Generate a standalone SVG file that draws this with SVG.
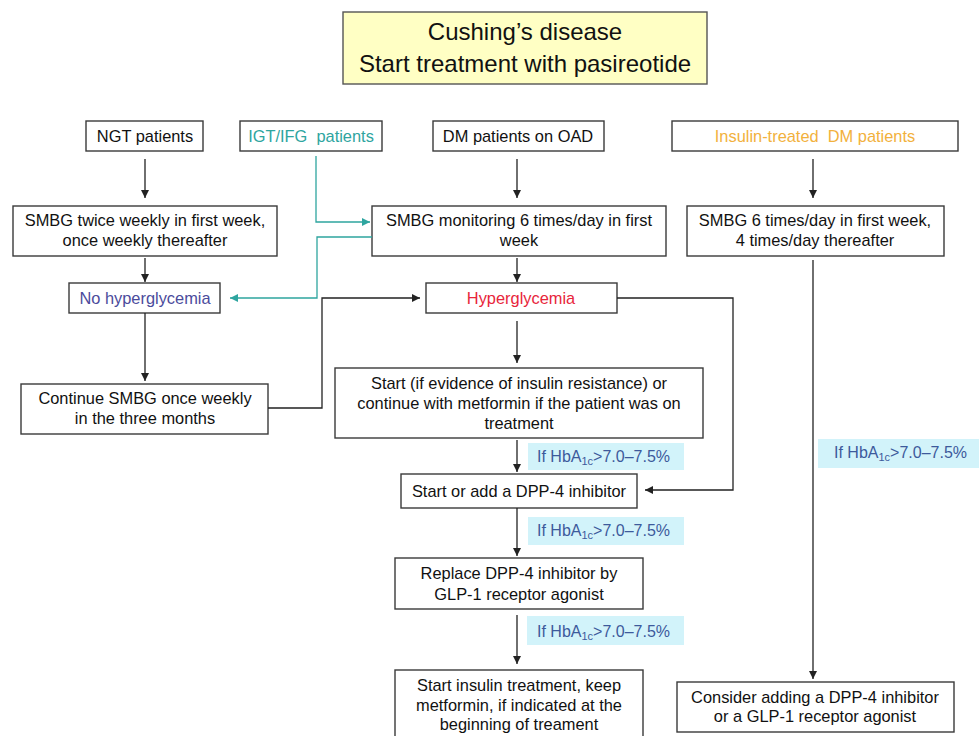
<svg xmlns="http://www.w3.org/2000/svg" width="979" height="736" viewBox="0 0 979 736">
<style>
.box{fill:#fff;stroke:#3a3a3a;stroke-width:1.4}
.t{font-family:"Liberation Sans",Arial,sans-serif;font-size:16.4px;fill:#111;text-anchor:middle}
.ttl{font-family:"Liberation Sans",Arial,sans-serif;font-size:24px;fill:#111;text-anchor:middle}
.lbl{fill:#d2f3fa}
.lt{font-family:"Liberation Sans",Arial,sans-serif;font-size:16px;fill:#3d5a9c}
.sub{font-size:11px}
.c{fill:none;stroke:#222;stroke-width:1.3}
.ct{fill:none;stroke:#2ea59f;stroke-width:1.3}
</style>
<defs>
<marker id="ah" viewBox="0 0 10 10" refX="10" refY="5" markerWidth="8" markerHeight="8" markerUnits="userSpaceOnUse" orient="auto"><path d="M0,0 L10,5 L0,10 z" fill="#222"/></marker>
<marker id="aht" viewBox="0 0 10 10" refX="10" refY="5" markerWidth="8" markerHeight="8" markerUnits="userSpaceOnUse" orient="auto"><path d="M0,0 L10,5 L0,10 z" fill="#2ea59f"/></marker>
</defs>
<rect width="979" height="736" fill="#fff"/>

<g id="title">
<rect x="343" y="12" width="364" height="72" fill="#ffffc4" stroke="#555" stroke-width="1.4"/>
<text class="ttl" x="525" y="40">Cushing’s disease</text>
<text class="ttl" x="525" y="72">Start treatment with pasireotide</text>
</g>

<g id="ngt"><rect class="box" x="86" y="121" width="117" height="30"/><text class="t" x="145" y="142">NGT patients</text></g>
<g id="igt"><rect class="box" x="240" y="121" width="142" height="30"/><text class="t" x="311" y="142" style="fill:#2ea59f" xml:space="preserve">IGT/IFG  patients</text></g>
<g id="dm"><rect class="box" x="433" y="121" width="171" height="30"/><text class="t" x="518" y="142">DM patients on OAD</text></g>
<g id="ins"><rect class="box" x="672" y="121" width="286" height="30"/><text class="t" x="815" y="142" style="fill:#f2b13c" xml:space="preserve">Insulin-treated  DM patients</text></g>

<g id="smbg1"><rect class="box" x="13" y="206" width="264" height="50"/><text class="t" x="145" y="226">SMBG twice weekly in first week,</text><text class="t" x="145" y="246">once weekly thereafter</text></g>
<g id="smbg2"><rect class="box" x="372" y="206" width="294" height="50"/><text class="t" x="519" y="226">SMBG monitoring 6 times/day in first</text><text class="t" x="519" y="246">week</text></g>
<g id="smbg3"><rect class="box" x="687" y="206" width="257" height="50"/><text class="t" x="815" y="226">SMBG 6 times/day in first week,</text><text class="t" x="815" y="246">4 times/day thereafter</text></g>

<g id="nohyper"><rect class="box" x="69" y="283" width="151" height="30"/><text class="t" x="145" y="304" style="fill:#4b4b9c">No hyperglycemia</text></g>
<g id="hyper"><rect class="box" x="426" y="283" width="191" height="30"/><text class="t" x="521" y="304" style="fill:#e8253b">Hyperglycemia</text></g>

<g id="cont"><rect class="box" x="21" y="384" width="247" height="50"/><text class="t" x="145" y="404">Continue SMBG once weekly</text><text class="t" x="145" y="424">in the three months</text></g>
<g id="metf"><rect class="box" x="335" y="368" width="368" height="70"/><text class="t" x="519" y="389">Start (if evidence of insulin resistance) or</text><text class="t" x="519" y="409">continue with metformin if the patient was on</text><text class="t" x="519" y="429">treatment</text></g>
<g id="dpp"><rect class="box" x="401" y="474" width="236" height="34"/><text class="t" x="519" y="497">Start or add a DPP-4 inhibitor</text></g>
<g id="glp"><rect class="box" x="395" y="558" width="248" height="51"/><text class="t" x="519" y="579">Replace DPP-4 inhibitor by</text><text class="t" x="519" y="600">GLP-1 receptor agonist</text></g>
<g id="insulin"><rect class="box" x="395" y="670" width="248" height="80"/><text class="t" x="519" y="691">Start insulin treatment, keep</text><text class="t" x="519" y="711">metformin, if indicated at the</text><text class="t" x="519" y="730">beginning of treament</text></g>
<g id="consider"><rect class="box" x="677" y="682" width="277" height="50"/><text class="t" x="815" y="703">Consider adding a DPP-4 inhibitor</text><text class="t" x="815" y="722">or a GLP-1 receptor agonist</text></g>

<g id="labels">
<rect class="lbl" x="528" y="443" width="156" height="27"/>
<text class="lt" x="537" y="462">If HbA<tspan class="sub" dy="3">1c</tspan><tspan dy="-3">&gt;7.0–7.5%</tspan></text>
<rect class="lbl" x="528" y="517" width="156" height="28"/>
<text class="lt" x="537" y="536">If HbA<tspan class="sub" dy="3">1c</tspan><tspan dy="-3">&gt;7.0–7.5%</tspan></text>
<rect class="lbl" x="527" y="616" width="157" height="29"/>
<text class="lt" x="537" y="637">If HbA<tspan class="sub" dy="3">1c</tspan><tspan dy="-3">&gt;7.0–7.5%</tspan></text>
<rect class="lbl" x="818" y="439" width="161" height="29"/>
<text class="lt" x="834" y="458">If HbA<tspan class="sub" dy="3">1c</tspan><tspan dy="-3">&gt;7.0–7.5%</tspan></text>
</g>

<g id="connectors">
<line class="c" x1="145" y1="159" x2="145" y2="198" marker-end="url(#ah)"/>
<line class="c" x1="517" y1="159" x2="517" y2="198" marker-end="url(#ah)"/>
<line class="c" x1="813" y1="159" x2="813" y2="198" marker-end="url(#ah)"/>
<line class="c" x1="145" y1="258" x2="145" y2="282" marker-end="url(#ah)"/>
<line class="c" x1="517" y1="258" x2="517" y2="282" marker-end="url(#ah)"/>
<polyline class="ct" points="316,156 316,222 370,222" marker-end="url(#aht)"/>
<polyline class="ct" points="372,237 317,237 317,298 230,298" marker-end="url(#aht)"/>
<line class="c" x1="145" y1="313" x2="145" y2="381" marker-end="url(#ah)"/>
<polyline class="c" points="268,408 322,408 322,298 420,298" marker-end="url(#ah)"/>
<polyline class="c" points="617,298 733,298 733,490 645,490" marker-end="url(#ah)"/>
<line class="c" x1="517" y1="321" x2="517" y2="363" marker-end="url(#ah)"/>
<line class="c" x1="517" y1="440" x2="517" y2="472" marker-end="url(#ah)"/>
<line class="c" x1="517" y1="508" x2="517" y2="556" marker-end="url(#ah)"/>
<line class="c" x1="517" y1="615" x2="517" y2="664" marker-end="url(#ah)"/>
<line class="c" x1="813" y1="260" x2="813" y2="679" marker-end="url(#ah)"/>
</g>
</svg>
